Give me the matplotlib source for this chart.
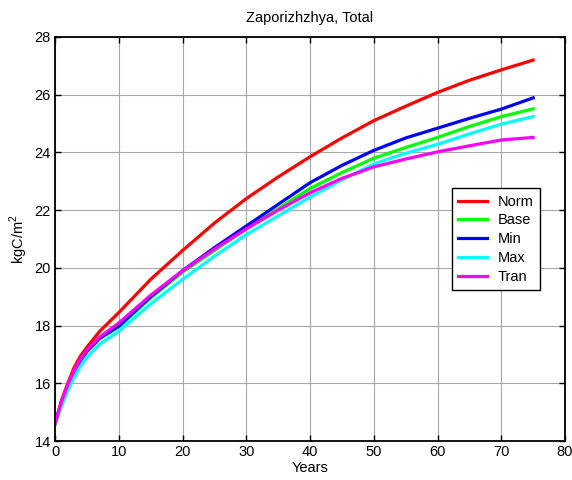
import matplotlib
matplotlib.use("Agg")
import matplotlib.pyplot as plt

plt.rcParams['font.family'] = ['Liberation Sans', 'DejaVu Sans']
plt.rcParams['mathtext.fontset'] = 'custom'
plt.rcParams['mathtext.rm'] = 'Liberation Sans'

years = [0, 1, 2, 3, 4, 5, 7, 10, 15, 20, 25, 30, 35, 40, 45, 50, 55, 60, 65, 70, 75]

norm = [14.6, 15.4, 16.0, 16.55, 16.95, 17.25, 17.8, 18.45, 19.6, 20.6, 21.55,
        22.4, 23.15, 23.85, 24.5, 25.1, 25.6, 26.08, 26.5, 26.86, 27.2]
base = [14.6, 15.3, 15.9, 16.4, 16.8, 17.1, 17.55, 17.95, 18.95, 19.85, 20.6,
        21.35, 22.05, 22.75, 23.3, 23.8, 24.17, 24.52, 24.9, 25.24, 25.51]
mins = [14.6, 15.3, 15.9, 16.4, 16.8, 17.1, 17.55, 17.98, 19.0, 19.9, 20.7,
        21.45, 22.2, 22.95, 23.55, 24.07, 24.5, 24.84, 25.18, 25.5, 25.89]
maxs = [14.6, 15.2, 15.75, 16.2, 16.6, 16.9, 17.35, 17.8, 18.75, 19.6, 20.4,
        21.15, 21.8, 22.45, 23.05, 23.6, 23.97, 24.28, 24.64, 24.98, 25.24]
tran = [14.6, 15.35, 15.95, 16.45, 16.85, 17.15, 17.6, 18.09, 19.05, 19.9, 20.65,
        21.35, 22.0, 22.6, 23.1, 23.5, 23.77, 24.02, 24.23, 24.43, 24.52]

labels = ["Norm", "Base", "Min", "Max", "Tran"]
colors = ["#ff0000", "#00ff00", "#0000ff", "#00ffff", "#ff00ff"]

fig = plt.figure(figsize=(5.72, 4.8), dpi=100)
ax = fig.add_axes([0.0962, 0.08125, 0.8916, 0.8417])

for series, lab, col in zip([norm, base, mins, maxs, tran], labels, colors):
    ax.plot(years, series, color=col, lw=2.3, label=lab)

ax.set_xlim(0, 80)
ax.set_ylim(14, 28)
ax.set_xticks(range(0, 81, 10))
ax.set_yticks(range(14, 29, 2))
ax.grid(True, color='#a8a8a8', lw=0.8, ls='-')
ax.set_axisbelow(True)
ax.tick_params(direction='in', top=True, right=True, length=4, width=1,
               labelsize=10.5, pad=3)
for sp in ax.spines.values():
    sp.set_linewidth(1.3)

ax.set_title("Zaporizhzhya, Total", fontsize=10.5, pad=11)
ax.set_xlabel("Years", fontsize=10.5, labelpad=1)
ax.set_ylabel("kgC/m$^2$", fontsize=10.5, labelpad=3)

leg = ax.legend(loc='upper right', bbox_to_anchor=(0.951, 0.626), borderaxespad=0,
                fancybox=False, framealpha=1, edgecolor='black', fontsize=10.5,
                handlelength=2.0, borderpad=0.45, labelspacing=0.33,
                handletextpad=0.7)
leg.get_frame().set_linewidth(1.0)

fig.savefig("out.png", dpi=100)
